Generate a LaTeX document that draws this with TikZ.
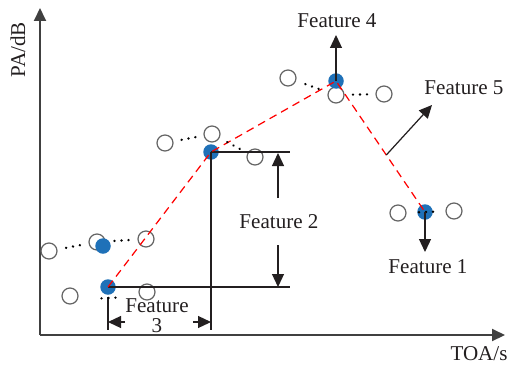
\documentclass[tikz,border=0pt]{standalone}
\usepackage{fontspec}
\setmainfont{Liberation Serif}
\usetikzlibrary{arrows.meta, calc, decorations.markings}
\definecolor{ptblue}{RGB}{31,113,184}
\definecolor{axgray}{RGB}{64,64,64}
\definecolor{ringgray}{RGB}{100,100,100}
\definecolor{txt}{RGB}{35,31,32}

\begin{document}
\begin{tikzpicture}[x=0.02cm, y=-0.02cm, font=\fontsize{12}{11.5}\selectfont, text=txt,
  ring/.style={circle, draw=ringgray, line width=0.7pt, minimum size=0.32cm, inner sep=0pt},
  ptdot/.style={circle, fill=ptblue, minimum size=0.31cm, inner sep=0pt},
  axis/.style={axgray, line width=1.1pt, -{Triangle[length=0.26cm, width=0.24cm]}},
  arr/.style={txt, line width=0.7pt, -{Triangle[length=0.26cm, width=0.24cm]}},
  dimline/.style={txt, line width=0.7pt},
  trend/.style={red, line width=0.7pt, dash pattern=on 4.5pt off 3pt},
  dotline/.style={decoration={markings, mark=at position 0.5 with
      {\foreach \d in {-0.14,0,0.14} \fill[black] (\d cm,0) circle (0.75pt);}}, decorate}]
\useasboundingbox (0,0) rectangle (509,365);

% axes
\coordinate (O) at (40,335);
\coordinate (xend) at (505,335);
\coordinate (yend) at (40,8);
\draw [axis] (O) -- (xend);
\draw [axis] (O) -- (yend);
\node (ylab) at (18,50) [rotate=90] {PA/dB};
\node (xlab) at (479,354) {TOA/s};

% open samples
\foreach \n/\x/\y in {1/49/251, 2/97/242, 3/146/239, 4/70/296, 5/147/292, 6/165/143,
  7/212/134, 8/255/157, 9/288/78, 10/336/95, 11/384/94, 12/398/213, 13/454/211}
  \node [ring] (r\n) at (\x,\y) {};

% feature points
\node [ptdot] (p1) at (108,287) {};
\node [ptdot] (p2) at (103,246) {};
\node [ptdot] (p3) at (211,152) {};
\node [ptdot] (p4) at (336,81) {};
\node [ptdot] (p5) at (425,212) {};

% dimension lines
\coordinate (h3) at (290,152);
\coordinate (h1) at (290,287);
\coordinate (v3) at (211,330);
\coordinate (t1a) at (108,297);
\coordinate (t1b) at (108,330);
\draw [dimline] (p3.center) -- (h3);
\draw [dimline] (p1.center) -- (h1);
\draw [dimline] (p3.center) -- (v3);
\draw [dimline] (t1a) -- (t1b);

% trend
\draw [trend] (p1.center) -- (p3.center) -- (p4.center) -- (p5.center);

% dots
\path [dotline] (r1) -- (r2);
\path [dotline] (r2) -- (r3);
\path [dotline] ($(r4)+(0,4)$) -- ($(r5)+(0,4)$);
\path [dotline] (r6) -- (r7);
\path [dotline] (r7) -- (r8);
\path [dotline] (r9) -- (r10);
\path [dotline] (r10) -- (r11);
\path [dotline] (r12) -- (r13);

% features
\node (f1) at (428,267) {Feature 1};
\coordinate (f1tip) at (425,252);
\draw [arr] (p5.center) -- (f1tip);

\node (f2) at (279,222) {Feature 2};
\coordinate (f2a) at (278,198);
\coordinate (f2b) at (278,153);
\coordinate (f2c) at (278,245);
\coordinate (f2d) at (278,287);
\draw [arr] (f2a) -- (f2b);
\draw [arr] (f2c) -- (f2d);

\node (f3) at (157,316) [align=center] {Feature\\3};
\coordinate (f3a) at (125,322);
\coordinate (f3b) at (108,322);
\coordinate (f3c) at (193,322);
\coordinate (f3d) at (211,322);
\draw [arr] (f3a) -- (f3b);
\draw [arr] (f3c) -- (f3d);

\node (f4) at (337,21) {Feature 4};
\coordinate (f4tip) at (336,35);
\draw [arr] (p4.center) -- (f4tip);

\node (f5) at (464,88) {Feature 5};
\coordinate (f5a) at ($(p4)!0.565!(p5)$);
\coordinate (f5tip) at (432,105);
\draw [arr] (f5a) -- (f5tip);
\end{tikzpicture}
\end{document}
